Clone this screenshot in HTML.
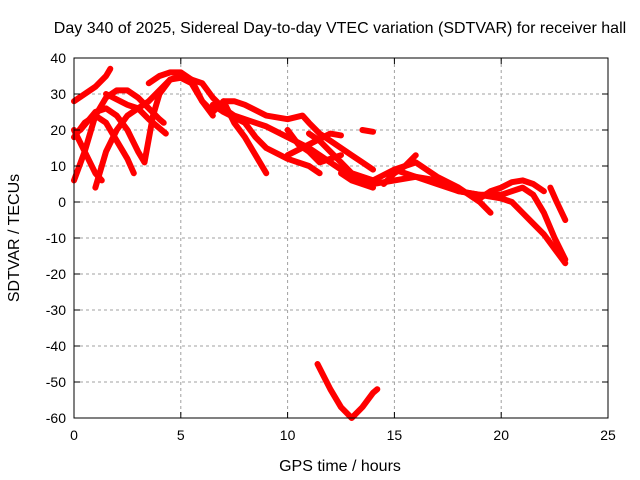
<!DOCTYPE html>
<html><head><meta charset="utf-8"><style>
body{margin:0;background:#fff}
svg{display:block;font-family:"Liberation Sans",sans-serif}
</style></head><body>
<svg id="c" width="640" height="480">
<text x="340" y="33" text-anchor="middle" font-size="16">Day 340 of 2025, Sidereal Day-to-day VTEC variation (SDTVAR) for receiver hall</text>
<text x="340" y="471" text-anchor="middle" font-size="16">GPS time / hours</text>
<text transform="translate(19,238) rotate(-90)" text-anchor="middle" font-size="16">SDTVAR / TECUs</text>
<g id="grid"></g><g id="marks"></g><g id="axes"></g>
</svg>
<script>
const xTicks=[0,5,10,15,20,25];
const yTicks=[40,30,20,10,0,-10,-20,-30,-40,-50,-60];
const s1=[[0,28],[0.5,30],[1,32],[1.5,35],[1.7,37]];
const s2=[[0,6],[0.5,14],[1,24],[1.5,29],[2,31],[2.5,31],[3,29],[3.5,26],[4,23],[4.2,22]];
const s3=[[0,20],[0.5,14],[1,8],[1.3,6]];
const s4=[[1,4],[1.5,14],[2,20],[2.5,24],[3,26],[3.5,28],[4,31],[4.5,34],[5,35],[5.5,34]];
const s5=[[0.3,20],[1,25],[1.5,26],[2,24],[2.5,20],[3,14],[3.3,11],[3.7,24],[4,30],[4.5,34],[5,34.5],[5.5,33],[6,28],[6.5,24]];
const s6=[[0,18],[0.5,22],[1,24],[1.5,22],[2,17],[2.5,12],[2.8,8]];
const s7=[[1.5,30],[2.5,27],[3,26],[3.5,23],[4.3,19]];
const s8=[[3.5,33],[4,35],[4.5,36],[5,36],[5.5,34],[6,33],[6.5,29],[7,26],[7.5,24],[8,23],[8.5,22],[9,21],[10,18],[11,15],[12,11],[13,7],[14,5],[15,6],[16,7],[17,6],[18,3],[19,2],[20,2],[21,4],[21.5,2],[22,-3],[22.5,-10],[23,-16]];
const s9=[[5.5,34],[6,28],[6.5,25],[7,28],[7.5,28],[8,27],[9,24],[10,23],[10.7,24],[11,22],[11.5,19],[12,17],[12.5,15],[13,13],[13.5,11],[14,9]];
const s10=[[6.5,27],[7,25],[8,22],[8.5,18],[9,15],[10,12],[11,10],[11.5,8]];
const s11=[[7,28],[7.5,22],[8,18],[8.5,13],[9,8]];
const s12=[[10,20],[10.5,16],[11,14],[11.5,11],[12,12],[12.5,13]];
const s13=[[10,13],[11,16],[12,19],[12.5,18.5]];
const s14=[[11,19],[11.5,17],[12,14],[12.5,11],[13,8],[14,6],[15,9],[16,11],[17,7],[18,4],[19,0],[19.5,-3]];
const s15=[[13.5,20],[14,19.5]];
const s16=[[12.5,8],[13,6],[13.5,5],[14,4]];
const s17=[[14.5,5],[15,8],[15.5,10],[16,13]];
const s18=[[15,9],[16,7],[17,5],[18,3],[19,2],[20,1],[20.5,0],[21,-3],[21.5,-6],[22,-9],[22.5,-13],[23,-17]];
const s19=[[19,1],[19.5,3],[20,4],[20.5,5.5],[21,6],[21.5,5],[22,3]];
const s20=[[22.3,4],[22.6,0],[23,-5]];
const s21=[[11.4,-45],[12,-52],[12.5,-57],[13,-60],[13.5,-57],[14,-53],[14.2,-52]];
const series=[s1,s2,s3,s4,s5,s6,s7,s8,s9,s10,s11,s12,s13,s14,s15,s16,s17,s18,s19,s20,s21];
const X0=74,X1=608,Y0=58,Y1=418;
const xs=h=>X0+(h-0)/(25-0)*(X1-X0);
const ys=v=>Y0+(40-v)/(40+60)*(Y1-Y0);
const NS="http://www.w3.org/2000/svg";
const g=document.getElementById('grid'),m=document.getElementById('marks'),a=document.getElementById('axes');
function mk(t,at,p){const e=document.createElementNS(NS,t);for(const k in at)e.setAttribute(k,at[k]);p.appendChild(e);return e;}
xTicks.forEach(t=>{const x=xs(t);
 if(t>0&&t<25){const l=mk('line',{x1:x,x2:x,y1:Y0,y2:Y1,stroke:'#a0a0a0','stroke-dasharray':'3,3'},g);
 
 }
 mk('line',{x1:x,x2:x,y1:Y1,y2:Y1-6,stroke:'#000'},a);
 mk('line',{x1:x,x2:x,y1:Y0,y2:Y0+6,stroke:'#000'},a);
 const tx=mk('text',{x:x,y:Y1+22,'text-anchor':'middle','font-size':'14'},a);tx.textContent=t;
 
 });
yTicks.forEach(t=>{const y=ys(t);
 if(t<40&&t>-60){const l=mk('line',{x1:X0,x2:X1,y1:y,y2:y,stroke:'#a0a0a0','stroke-dasharray':'3,3'},g);
 
 }
 mk('line',{x1:X0,x2:X0+6,y1:y,y2:y,stroke:'#000'},a);
 mk('line',{x1:X1,x2:X1-6,y1:y,y2:y,stroke:'#000'},a);
 const tx=mk('text',{x:X0-8,y:y+5,'text-anchor':'end','font-size':'14'},a);tx.textContent=t;
 
 });
const fr=mk('rect',{x:X0,y:Y0,width:X1-X0,height:Y1-Y0,fill:'none',stroke:'#000'},a);


series.forEach((s,i)=>{const p=mk('polyline',{points:s.map(d=>xs(d[0])+','+ys(d[1])).join(' '),fill:'none',stroke:'#ff0000','stroke-width':'6','stroke-linejoin':'round','stroke-linecap':'round'},m);
 
 });
</script>
</body></html>
